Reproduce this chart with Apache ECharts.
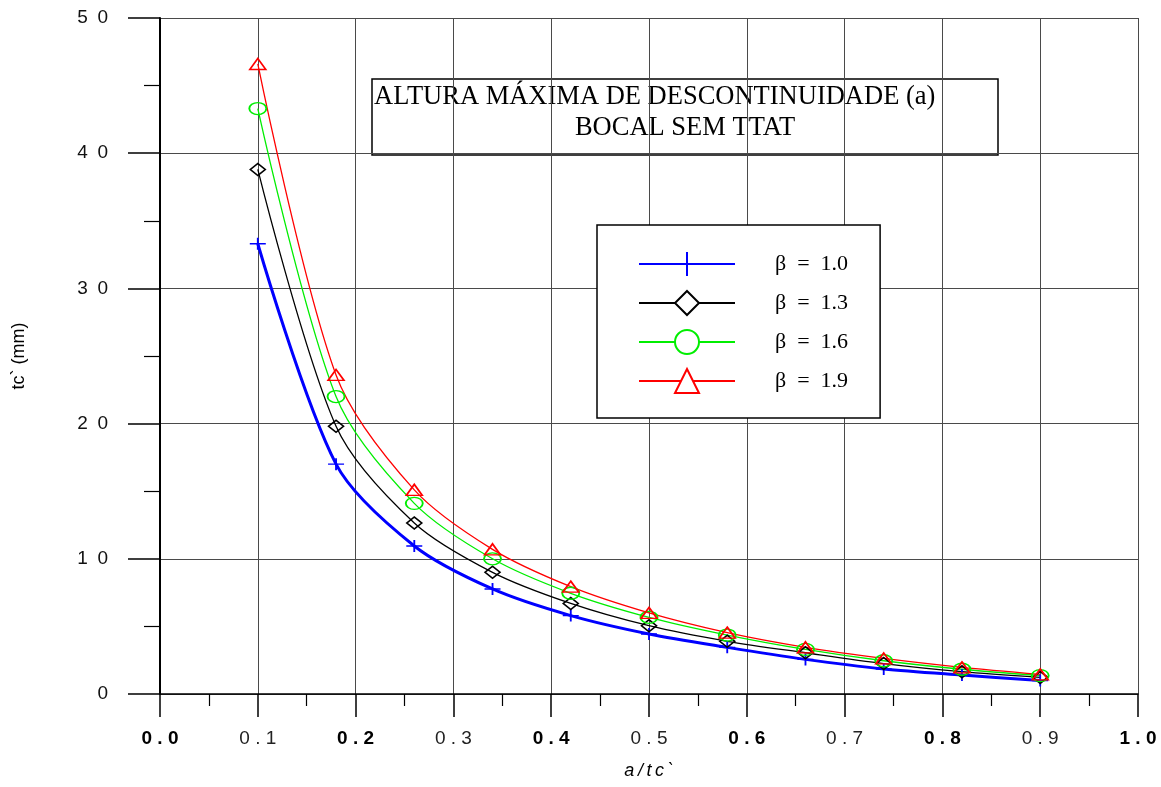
<!DOCTYPE html>
<html>
<head>
<meta charset="utf-8">
<script src="https://cdn.jsdelivr.net/npm/echarts@6/dist/echarts.min.js"></script>
<style>
	html, body { margin: 0; padding: 0; background: #fff; }
	#main { width: 1161px; height: 787px; }
</style>
</head>
<body>
<div id="main"></div>
<script>
var ratio = [0.1, 0.18, 0.26, 0.34, 0.42, 0.5, 0.58, 0.66, 0.74, 0.82, 0.9];

var beta10 = [33.3, 17.0, 10.95, 7.77, 5.8, 4.44, 3.45, 2.56, 1.85, 1.4, 1.0];
var beta13 = [38.8, 19.8, 12.65, 9.0, 6.7, 5.05, 3.9, 3.05, 2.25, 1.65, 1.23];
var beta16 = [43.3, 22.0, 14.1, 10.0, 7.45, 5.67, 4.36, 3.3, 2.46, 1.83, 1.36];
var beta19 = [46.6, 23.6, 15.1, 10.7, 7.94, 6.0, 4.54, 3.45, 2.63, 1.97, 1.45];

var seriesNames = ['β = 1.0', 'β = 1.3', 'β = 1.6', 'β = 1.9'];

var xTickLabels = ['0.0', '0.1', '0.2', '0.3', '0.4', '0.5', '0.6', '0.7', '0.8', '0.9', '1.0'];
var yTickLabels = ['0', '10', '20', '30', '40', '50'];

var titleLines = ['ALTURA MÁXIMA DE DESCONTINUIDADE (a)', 'BOCAL SEM TTAT'];

function pairs(ys) {
	var out = [];
	for (var i = 0; i < ratio.length; i++) {
		out.push([ratio[i], ys[i]]);
	}
	return out;
}

// spread characters a bit, like the original plot's labels
function spaced(s, sep) {
	return s.split('').join(sep);
}

var _chart = echarts.init(document.getElementById('main'), null, { renderer: 'canvas' });

var sans = '"Liberation Sans", Arial, sans-serif';
var serif = '"Liberation Serif", "Times New Roman", serif';

function lineSeries(name, ys, color, width, symbol, size) {
	return {
		name: name,
		type: 'line',
		data: pairs(ys),
		smooth: 0.3,
		symbol: symbol,
		symbolSize: size,
		symbolKeepAspect: false,
		showAllSymbol: true,
		lineStyle: { color: color, width: width },
		itemStyle: { color: 'transparent', borderColor: color, borderWidth: 1.6 },
		emphasis: { disabled: true }
	};
}

var option = {
	animation: false,
	backgroundColor: '#fff',
	grid: { left: 160, right: 23, top: 18, bottom: 93 },
	xAxis: {
		type: 'value',
		min: 0,
		max: 1,
		interval: 0.1,
		name: spaced('a/tc`', '\u2009'),
		nameLocation: 'middle',
		nameGap: 68,
		nameTextStyle: { fontFamily: sans, fontSize: 18, fontStyle: 'italic', color: '#000' },
		axisLine: { onZero: false, lineStyle: { color: '#000', width: 1.5 } },
		axisTick: { length: 23, lineStyle: { color: '#000', width: 1.5 } },
		minorTick: { show: true, splitNumber: 2, length: 12, lineStyle: { color: '#000', width: 1.2 } },
		axisLabel: {
			margin: 35,
			formatter: function (v) {
				var k = Math.round(v * 10);
				var s = spaced(xTickLabels[k], ' ');
				return (k % 2 === 0 ? '{b|' : '{n|') + s + '}';
			},
			rich: {
				b: { fontFamily: sans, fontSize: 19, fontWeight: 'bold', color: '#000' },
				n: { fontFamily: sans, fontSize: 19, color: '#222' }
			}
		},
		splitLine: { show: true, lineStyle: { color: '#4a4a4a', width: 1 } }
	},
	yAxis: {
		type: 'value',
		min: 0,
		max: 50,
		interval: 10,
		name: 'tc` (mm)',
		nameLocation: 'middle',
		nameGap: 132,
		nameTextStyle: { fontFamily: sans, fontSize: 18, color: '#000' },
		axisLine: { show: true, lineStyle: { color: '#000', width: 2 } },
		axisTick: { show: true, length: 32, lineStyle: { color: '#000', width: 1.5 } },
		minorTick: { show: true, splitNumber: 2, length: 16, lineStyle: { color: '#000', width: 1.2 } },
		axisLabel: {
			margin: 52,
			fontFamily: sans,
			fontSize: 19,
			color: '#111',
			formatter: function (v) {
				return spaced(yTickLabels[Math.round(v / 10)], '\u2002');
			}
		},
		splitLine: { show: true, lineStyle: { color: '#4a4a4a', width: 1 } }
	},
	legend: {
		orient: 'vertical',
		left: 597,
		top: 225,
		padding: [26, 32, 24, 41],
		itemWidth: 96,
		itemHeight: 30,
		itemGap: 13,
		backgroundColor: '#fff',
		borderColor: '#000',
		borderWidth: 1.5,
		borderRadius: 0,
		itemStyle: { color: '#fff' },
		textStyle: { fontFamily: serif, fontSize: 22, color: '#000', padding: [0, 0, 0, 35] },
		formatter: function (name) {
			return name.replace(/ /g, '\u2002');
		},
		data: seriesNames
	},
	graphic: [
		{
			type: 'group',
			z: 100,
			children: [
				{
					type: 'rect',
					shape: { x: 372, y: 79, width: 626, height: 76 },
					style: { fill: '#fff', stroke: '#000', lineWidth: 1.5 }
				},
				{
					type: 'text',
					style: { x: 374, y: 97, text: titleLines[0], font: '26.5px ' + serif, fill: '#000', verticalAlign: 'middle' }
				},
				{
					type: 'text',
					style: { x: 685, y: 128, text: titleLines[1], font: '26.5px ' + serif, fill: '#000', align: 'center', verticalAlign: 'middle' }
				}
			]
		}
	],
	series: [
		lineSeries(seriesNames[0], beta10, '#0000ff', 3, 'path://M0,6L16,6M8,0L8,12', [16, 12]),
		lineSeries(seriesNames[1], beta13, '#000000', 1.3, 'diamond', [15, 12]),
		lineSeries(seriesNames[2], beta16, '#00ee00', 1.3, 'circle', [17, 12]),
		lineSeries(seriesNames[3], beta19, '#ff0000', 1.3, 'triangle', [16, 11])
	]
};

_chart.setOption(option);
</script>
</body>
</html>
